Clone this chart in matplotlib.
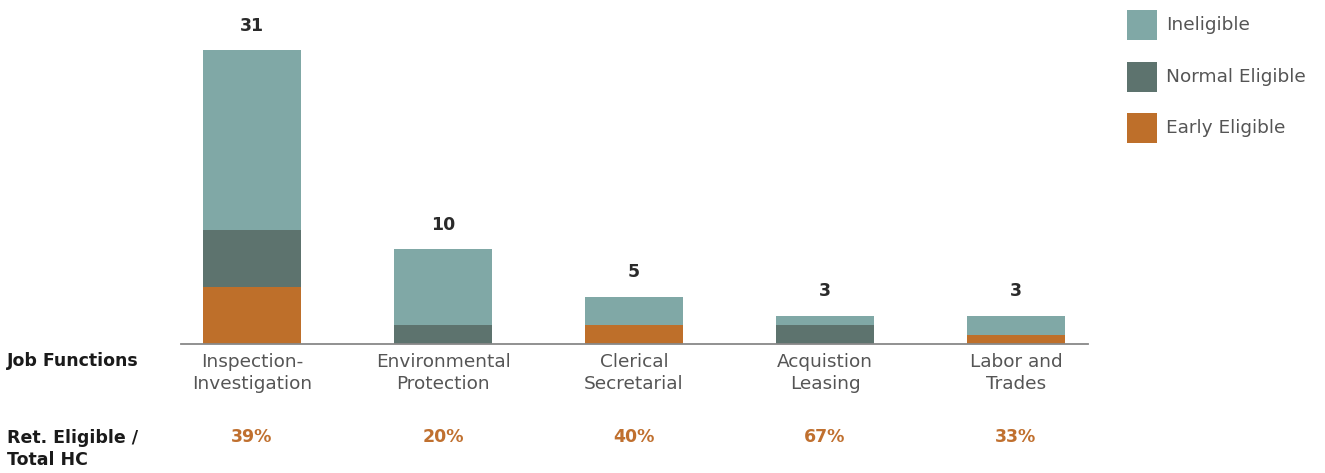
import matplotlib
matplotlib.use("Agg")
import matplotlib.pyplot as plt
import matplotlib.transforms as mtransforms
from matplotlib.patches import Rectangle

categories = ["Inspection-\nInvestigation", "Environmental\nProtection", "Clerical\nSecretarial",
              "Acquistion\nLeasing", "Labor and\nTrades"]
early_eligible = [6, 0, 2, 0, 1]
normal_eligible = [6, 2, 0, 2, 0]
ineligible = [19, 8, 3, 1, 2]
totals = [31, 10, 5, 3, 3]
pct_labels = ["39%", "20%", "40%", "67%", "33%"]
series_names = ["Ineligible", "Normal Eligible", "Early Eligible"]

C_INEL = "#80A8A6"
C_NORM = "#5D736E"
C_EARLY = "#BE6F2A"
C_PCT = "#C0702F"
C_LIGHT_TXT = "#555555"
plt.rcParams['font.family'] = ["DejaVu Sans"]

W, H = 1325, 473
fig = plt.figure(figsize=(W / 100, H / 100), dpi=100)
ax = fig.add_axes([181 / W, (H - 344) / H, (1088 - 181) / W, (344 - 10) / H])

x = list(range(len(categories)))
bw = 0.51
ax.bar(x, early_eligible, width=bw, color=C_EARLY, linewidth=0)
ax.bar(x, normal_eligible, width=bw, bottom=early_eligible, color=C_NORM, linewidth=0)
bot2 = [a + b for a, b in zip(early_eligible, normal_eligible)]
ax.bar(x, ineligible, width=bw, bottom=bot2, color=C_INEL, linewidth=0)

ax.set_xlim(-0.372, 4.377)
ax.set_ylim(0, 334 / 9.48)
for s in ["top", "right", "left"]:
    ax.spines[s].set_visible(False)
ax.spines["bottom"].set_color("#888888")
ax.spines["bottom"].set_linewidth(1.3)
ax.set_xticks([])
ax.set_yticks([])

for xi, t in zip(x, totals):
    ax.annotate(str(t), (xi, t), xytext=(0, 17.5), textcoords="offset points",
                ha="center", va="center", fontsize=12.5, fontweight="bold", color="#2a2a2a")

tr = mtransforms.blended_transform_factory(ax.transData, fig.transFigure)
for xi, lab, p in zip(x, categories, pct_labels):
    ax.text(xi, (H - 373) / H, lab, transform=tr, ha="center", va="center",
            fontsize=13.3, fontweight="normal", color=C_LIGHT_TXT, linespacing=1.25, clip_on=False)
    ax.text(xi, (H - 437) / H, p, transform=tr, ha="center", va="center",
            fontsize=12.5, fontweight="bold", color=C_PCT, clip_on=False)

fig.text(7 / W, (H - 361) / H, "Job Functions", ha="left", va="center",
         fontsize=12.5, fontweight="bold", color="#1a1a1a")
fig.text(7 / W, (H - 449) / H, "Ret. Eligible /\nTotal HC", ha="left", va="center",
         fontsize=12.5, fontweight="bold", color="#1a1a1a", linespacing=1.3)

# legend
leg_colors = [C_INEL, C_NORM, C_EARLY]
leg_y = [25, 77, 128]
for name, c, yc in zip(series_names, leg_colors, leg_y):
    fig.patches.append(Rectangle((1127 / W, (H - yc - 15) / H), 30 / W, 30 / H,
                                 transform=fig.transFigure, color=c, linewidth=0))
    fig.text(1166 / W, (H - yc) / H, name, ha="left", va="center",
             fontsize=13.3, fontweight="normal", color=C_LIGHT_TXT)

fig.savefig("out.png", dpi=100)
